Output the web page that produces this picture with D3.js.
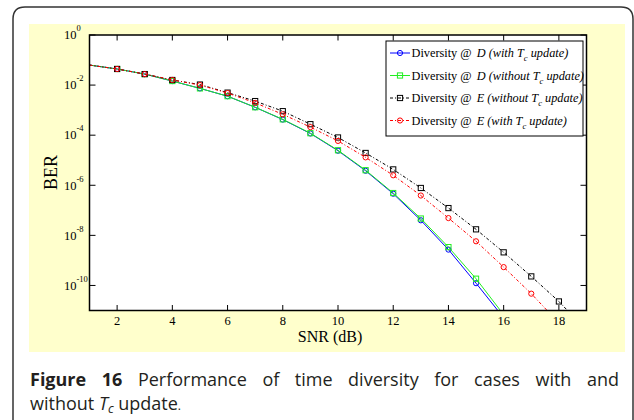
<!DOCTYPE html>
<html><head><meta charset="utf-8">
<script src="https://cdn.jsdelivr.net/npm/d3@7"></script>
<style>body{margin:0;background:#fff}svg{display:block}</style>
</head><body>
<svg id="c" width="634" height="420"></svg>
<script>
// ---- data ----
const snrBlue  = [1,2,3,4,5,6,7,8,9,10,11,12,13,14,15,16];
const berBlue  = [6.3e-2,4.4e-2,2.75e-2,1.45e-2,7.4e-3,3.6e-3,1.3e-3,4.2e-4,1.17e-4,2.4e-5,3.8e-6,4.6e-7,4.0e-8,2.7e-9,1.23e-10,5.1e-12];
const snrGreen = [1,2,3,4,5,6,7,8,9,10,11,12,13,14,15,16];
const berGreen = [6.3e-2,4.4e-2,2.75e-2,1.45e-2,7.4e-3,3.6e-3,1.3e-3,4.3e-4,1.2e-4,2.5e-5,4.0e-6,4.9e-7,4.7e-8,3.4e-9,1.86e-10,6.8e-12];
const snrBlack = [1,2,3,4,5,6,7,8,9,10,11,12,13,14,15,16,17,18,19];
const berBlack = [6.3e-2,4.4e-2,2.75e-2,1.6e-2,1.05e-2,5.0e-3,2.3e-3,9.1e-4,2.75e-4,8.1e-5,1.95e-5,4.3e-6,7.8e-7,1.23e-7,1.74e-8,2.1e-9,2.3e-10,2.3e-11,1.6e-12];
const snrRed   = [1,2,3,4,5,6,7,8,9,10,11,12,13,14,15,16,17,18];
const berRed   = [6.3e-2,4.4e-2,2.75e-2,1.6e-2,1.0e-2,4.8e-3,1.95e-3,6.8e-4,2.1e-4,5.9e-5,1.3e-5,2.5e-6,3.9e-7,4.9e-8,5.8e-9,5.4e-10,4.7e-11,3.2e-12];
const xTicks = [2,4,6,8,10,12,14,16,18];
const yTickExp = [0,-2,-4,-6,-8,-10];
const seriesNames = [
  {pre:"Diversity @", it:"D (with T", sub:"c", post:" update)"},
  {pre:"Diversity @", it:"D (without T", sub:"c", post:" update)"},
  {pre:"Diversity @", it:"E (without T", sub:"c", post:" update)"},
  {pre:"Diversity @", it:"E (with T", sub:"c", post:" update)"}
];

const styles = [
  {color:"#0000ff", dash:null, marker:"circle"},
  {color:"#22ee22", dash:null, marker:"square"},
  {color:"#000000", dash:"3,2,1,2", marker:"square"},
  {color:"#ff0000", dash:"3,2,1,2", marker:"circle"}
];
const series = [
  {x:snrBlue, y:berBlue},{x:snrGreen, y:berGreen},{x:snrBlack, y:berBlack},{x:snrRed, y:berRed}
];

const svg = d3.select("#c");
const L=89.5, R=586.5, T=35, B=310.5;

// frame
svg.append("path").attr("d","M13,425 L13,19 Q13,7 25,7 L621,7 Q633,7 633,19 L633,425")
  .attr("fill","none").attr("stroke","#333").attr("stroke-width",1.5);
// yellow panel
svg.append("rect").attr("x",29).attr("y",24).attr("width",596).attr("height",328).attr("fill","#ffffcc");

const x = d3.scaleLinear().domain([1,19]).range([L,R]);
const y = d3.scaleLog().domain([1e-11,1]).range([B,T]);

svg.append("rect").attr("x",L).attr("y",T).attr("width",R-L).attr("height",B-T).attr("fill","#fff");

svg.append("clipPath").attr("id","clip").append("rect").attr("x",L).attr("y",T).attr("width",R-L).attr("height",B-T);
const g = svg.append("g").attr("clip-path","url(#clip)");

const line = d3.line().x(d=>x(d[0])).y(d=>y(d[1]));
function marker(sel, type, color, cx, cy){
  if(type==="circle") sel.append("circle").attr("cx",cx).attr("cy",cy).attr("r",2.6).attr("fill","none").attr("stroke",color).attr("stroke-width",1);
  else sel.append("rect").attr("x",cx-2.6).attr("y",cy-2.6).attr("width",5.2).attr("height",5.2).attr("fill","none").attr("stroke",color).attr("stroke-width",1);
}
series.forEach((s,i)=>{
  const pts = s.x.map((v,j)=>[v,s.y[j]]);
  const st = styles[i];
  g.append("path").attr("d",line(pts)).attr("fill","none").attr("stroke",st.color).attr("stroke-width",1)
    .attr("stroke-dasharray",st.dash);
  pts.filter(p=>p[0]>=2).forEach(p=>marker(g, st.marker, st.color, x(p[0]), y(p[1])));
});

// axes border and ticks
svg.append("rect").attr("x",L).attr("y",T).attr("width",R-L).attr("height",B-T).attr("fill","none").attr("stroke","#000").attr("stroke-width",1.5);
xTicks.forEach(t=>{
  svg.append("line").attr("x1",x(t)).attr("x2",x(t)).attr("y1",B).attr("y2",B-5.5).attr("stroke","#000");
  svg.append("line").attr("x1",x(t)).attr("x2",x(t)).attr("y1",T).attr("y2",T+5.5).attr("stroke","#000");
  svg.append("text").attr("x",x(t)).attr("y",325).attr("text-anchor","middle")
    .attr("font-family","Liberation Serif").attr("font-size",12.5).text(t);
});
yTickExp.forEach(e=>{
  const yy = y(Math.pow(10,e));
  svg.append("line").attr("x1",L).attr("x2",L+6).attr("y1",yy).attr("y2",yy).attr("stroke","#000");
  svg.append("line").attr("x1",R).attr("x2",R-6).attr("y1",yy).attr("y2",yy).attr("stroke","#000");
  const t = svg.append("text").attr("x",64).attr("y",yy+4.3).attr("font-family","Liberation Serif").attr("font-size",12.5);
  t.append("tspan").text("10");
  t.append("tspan").attr("dy",-8).attr("font-size",8.5).text(e===0?"0":"-"+(-e));
});

// axis labels
svg.append("text").attr("x",330).attr("y",342).attr("text-anchor","middle")
  .attr("font-family","Liberation Serif").attr("font-size",16).text("SNR (dB)");
svg.append("text").attr("transform","translate(57,172.5) rotate(-90)").attr("text-anchor","middle")
  .attr("font-family","Liberation Serif").attr("font-size",18).text("BER");

// legend
const lg = svg.append("g");
lg.append("rect").attr("x",386).attr("y",41).attr("width",197).attr("height",95).attr("fill","#fff").attr("stroke","#000").attr("stroke-width",1);
seriesNames.forEach((n,i)=>{
  const cy = 53 + i*22.5;
  const st = styles[i];
  lg.append("line").attr("x1",390).attr("x2",410).attr("y1",cy).attr("y2",cy).attr("stroke",st.color).attr("stroke-dasharray",st.dash);
  marker(lg, st.marker, st.color, 400, cy);
  const t = lg.append("text").attr("x",411.5).attr("y",cy+4).attr("font-family","Liberation Serif").attr("font-size",12.3);
  t.append("tspan").text(n.pre);
  t.append("tspan").attr("dx",5).attr("font-style","italic").text(n.it);
  t.append("tspan").attr("dy",4).attr("font-size",8.5).attr("font-style","italic").text(n.sub);
  t.append("tspan").attr("dy",-4).attr("font-style","italic").text(n.post);
});

// caption (justified first line via word-spacing)
const capFont = "Open Sans", capSize = 18;
const cap1 = svg.append("text").attr("x",30).attr("y",386).attr("font-family",capFont).attr("font-size",capSize).attr("fill","#231f20");
cap1.append("tspan").attr("font-weight","bold").text("Figure 16");
cap1.append("tspan").text(" Performance of time diversity for cases with and");
const w = cap1.node().getComputedTextLength();
const ws = (589 - w) / 9;
if (ws > 0) cap1.attr("word-spacing", ws);
else cap1.attr("textLength",589).attr("lengthAdjust","spacingAndGlyphs");
const cap2 = svg.append("text").attr("x",30).attr("y",410).attr("font-family",capFont).attr("font-size",capSize).attr("fill","#231f20");
cap2.append("tspan").text("without ");
cap2.append("tspan").attr("font-style","italic").text("T");
cap2.append("tspan").attr("font-style","italic").attr("font-size",12.5).attr("dy",3).text("c");
cap2.append("tspan").attr("dy",-3).text(" update");
cap2.append("tspan").attr("font-size",12).text(".");
</script>
</body></html>
